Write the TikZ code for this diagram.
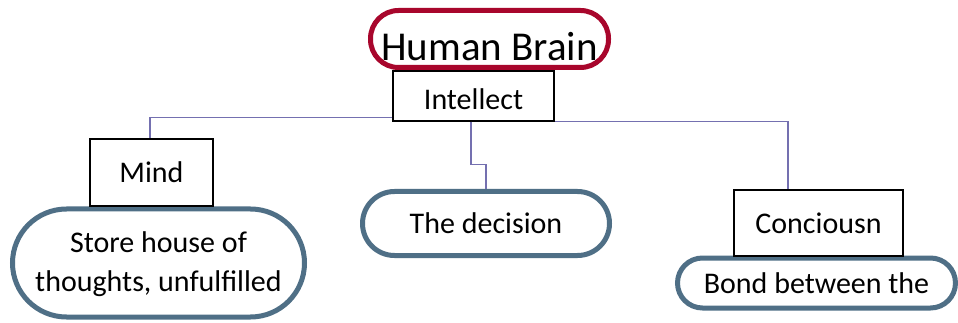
\documentclass[tikz,border=0pt]{standalone}
\usepackage{fontspec}
\setmainfont{Carlito}
\usetikzlibrary{calc}
\definecolor{brainred}{HTML}{A8062C}
\definecolor{slate}{HTML}{4F6F86}
\definecolor{linkcol}{HTML}{7470B0}
\tikzset{
  txt/.style={font=\fontsize{30}{42}\selectfont, text=black, inner sep=0pt, align=center},
  pill/.style={txt, draw=slate, line width=5pt, fill=white},
  squarebox/.style={txt, draw=black, line width=1.5pt, fill=white},
  link/.style={draw=linkcol, line width=1.5pt},
}
\begin{document}
\begin{tikzpicture}[x=1pt,y=-1pt]
\useasboundingbox (0,0) rectangle (958,323);
\fill[white] (0,0) rectangle (958,323);

% top title
\node[txt, draw=brainred, line width=5pt, fill=white, minimum width=238pt, minimum height=57pt,
      rounded corners=28pt, font=\fontsize{41}{46}\selectfont] (brain) at (489.5,39)
      {\raisebox{-7pt}[\height][0pt]{Human Brain}};
\node[squarebox, minimum width=161pt, minimum height=50pt] (intellect) at (473.5,96)
      {\raisebox{-3pt}[\height][0pt]{Intellect}};

% lower ovals first, boxes over them
\node[pill, minimum width=292pt, minimum height=108pt, rounded corners=54pt] (store) at (158.5,263)
  {\raisebox{-3pt}[\height][0pt]{Store house of}\\thoughts, unfulfilled};
\node[squarebox, minimum width=123pt, minimum height=67pt] (mind) at (151.5,172.5) {Mind};

\node[pill, minimum width=247pt, minimum height=64pt, rounded corners=32pt] (decision) at (486,223.5) {The decision};

\node[pill, minimum width=278pt, minimum height=50pt, rounded corners=25pt] (bond) at (816.5,283) {Bond between the};
\node[squarebox, minimum width=169pt, minimum height=66pt] (consc) at (818.5,223) {Conciousn};

% connectors
\draw[link] ($(intellect.south west)+(0,-4)$) -| ($(mind.north)+(-1.5,0)$);
\draw[link] ($(intellect.south)+(-2.5,0)$) -- ++(0,43) -| (decision.north);
\draw[link] (intellect.south east) -| ($(consc.north)+(-30.5,0)$);
\end{tikzpicture}
\end{document}
